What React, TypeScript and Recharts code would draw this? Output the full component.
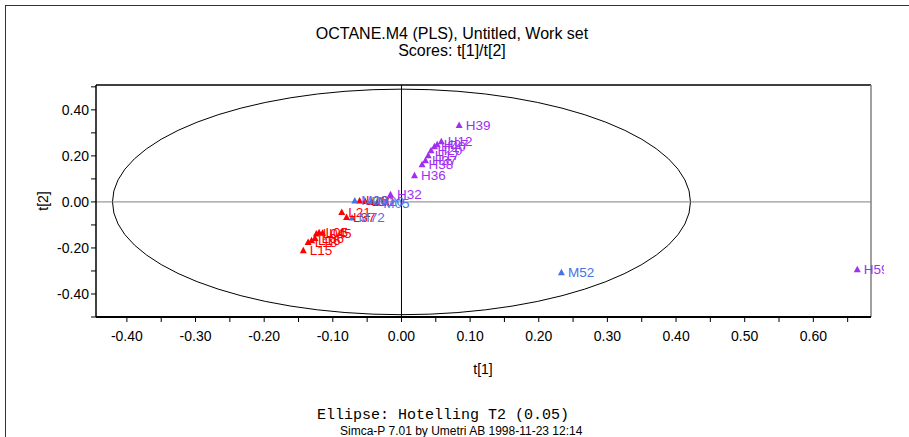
import {
  ScatterChart,
  Scatter,
  XAxis,
  YAxis,
  ReferenceLine,
  ReferenceArea,
  LabelList,
} from 'recharts';

// ─── Data — scores t[1] / t[2] per sample ─────────────────────────────────────

const L_NAMES = ['L15', 'L18', 'L16', 'L06', 'L04', 'L05', 'L45', 'L21', 'L37', 'L13', 'L10'];
const L_T1 = [-0.143, -0.136, -0.131, -0.126, -0.124, -0.120, -0.115, -0.087, -0.080, -0.061, -0.053];
const L_T2 = [-0.210, -0.174, -0.166, -0.157, -0.137, -0.132, -0.134, -0.044, -0.066, 0.006, 0.004];

const M_NAMES = ['M72', 'M06', 'M20', 'M05', 'M52'];
const M_T1 = [-0.072, -0.068, -0.044, -0.036, 0.233];
const M_T2 = [-0.068, 0.006, 0.004, -0.004, -0.306];

const H_NAMES = ['H32', 'H36', 'H38', 'H37', 'H17', 'H20', 'H40', 'H27', 'H12', 'H39', 'H59'];
const H_T1 = [-0.016, 0.019, 0.030, 0.035, 0.039, 0.043, 0.048, 0.052, 0.058, 0.084, 0.664];
const H_T2 = [0.033, 0.116, 0.164, 0.181, 0.203, 0.225, 0.242, 0.251, 0.264, 0.334, -0.293];

// Hotelling T2 (0.05) ellipse semi-axes
const ELLIPSE_T1 = 0.421;
const ELLIPSE_T2 = 0.49;

const X_DOMAIN: [number, number] = [-0.445, 0.684];
const Y_DOMAIN: [number, number] = [-0.5, 0.508];

const X_TICKS = [-0.4, -0.35, -0.3, -0.25, -0.2, -0.15, -0.1, -0.05, 0, 0.05, 0.1, 0.15, 0.2, 0.25, 0.3, 0.35, 0.4, 0.45, 0.5, 0.55, 0.6, 0.65];
const X_LABELS = [-0.4, -0.3, -0.2, -0.1, 0, 0.1, 0.2, 0.3, 0.4, 0.5, 0.6];
const Y_TICKS = [-0.5, -0.4, -0.3, -0.2, -0.1, 0, 0.1, 0.2, 0.3, 0.4, 0.5];
const Y_LABELS = [-0.4, -0.2, 0, 0.2, 0.4];

// ─── Helpers ──────────────────────────────────────────────────────────────────

const RED = '#ff0000';
const BLUE = '#4a72e8';
const PURPLE = '#a02ff0';
const FONT = 'Arial, "Liberation Sans", sans-serif';

function toPoints(names: string[], t1: number[], t2: number[]) {
  return names.map((name, i) => ({ name, t1: t1[i], t2: t2[i] }));
}

const L_DATA = toPoints(L_NAMES, L_T1, L_T2);
const M_DATA = toPoints(M_NAMES, M_T1, M_T2);
const H_DATA = toPoints(H_NAMES, H_T1, H_T2);

function fmt(list: number[]) {
  return (v: number) => (list.some((l) => Math.abs(l - v) < 1e-6) ? v.toFixed(2) : '');
}

function triangle(color: string) {
  return (props: any) => {
    const { cx, cy } = props;
    return (
      <polygon
        points={`${cx - 3.5},${cy + 3} ${cx + 3.5},${cy + 3} ${cx},${cy - 3.5}`}
        fill={color}
      />
    );
  };
}

function EllipseShape(props: any) {
  const { x, y, width, height } = props;
  return (
    <ellipse
      cx={x + width / 2}
      cy={y + height / 2}
      rx={width / 2}
      ry={height / 2}
      fill="none"
      stroke="#000"
      strokeWidth={1}
    />
  );
}

const tickStyle = { fontSize: 14, fill: '#000', fontFamily: FONT };

// ─── Main Component ───────────────────────────────────────────────────────────

export default function App() {
  return (
    <div style={{ position: 'absolute', left: 0, top: 0, width: 909, height: 437, overflow: 'hidden', background: '#fff', fontFamily: FONT }}>
      <div style={{ position: 'absolute', left: 5, top: 5, width: 1000, height: 1000, border: '1px solid #333' }} />

      <div style={{ position: 'absolute', left: 252, width: 400, top: 25, textAlign: 'center', fontSize: 16, lineHeight: '17px', color: '#000' }}>
        OCTANE.M4 (PLS), Untitled, Work set
        <br />
        Scores: t[1]/t[2]
      </div>

      <ScatterChart width={884} height={437} margin={{ top: 85, right: 13, left: 36, bottom: 90 }}>
        <XAxis
          type="number"
          dataKey="t1"
          domain={X_DOMAIN}
          ticks={X_TICKS}
          tickFormatter={fmt(X_LABELS)}
          allowDataOverflow
          axisLine={{ stroke: '#000', strokeWidth: 2 }}
          tickLine={{ stroke: '#000' }}
          tickSize={5}
          tickMargin={9}
          tick={tickStyle}
          height={30}
        />
        <YAxis
          type="number"
          dataKey="t2"
          domain={Y_DOMAIN}
          ticks={Y_TICKS}
          tickFormatter={fmt(Y_LABELS)}
          allowDataOverflow
          axisLine={{ stroke: '#000', strokeWidth: 1.5 }}
          tickLine={{ stroke: '#000' }}
          tickSize={5}
          tickMargin={2}
          tick={tickStyle}
          width={60}
        />

        <ReferenceLine y={Y_DOMAIN[1]} stroke="#000" strokeWidth={1.5} />
        <ReferenceLine x={X_DOMAIN[1]} stroke="#808080" strokeWidth={1.5} />
        <ReferenceLine y={0} stroke="#808080" />
        <ReferenceLine x={0} stroke="#000" />

        <ReferenceArea
          x1={-ELLIPSE_T1}
          x2={ELLIPSE_T1}
          y1={-ELLIPSE_T2}
          y2={ELLIPSE_T2}
          shape={EllipseShape}
        />

        <Scatter data={L_DATA} shape={triangle(RED)} isAnimationActive={false}>
          <LabelList dataKey="name" position="right" offset={2} fill={RED} fontSize={13.5} fontFamily={FONT} />
        </Scatter>
        <Scatter data={M_DATA} shape={triangle(BLUE)} isAnimationActive={false}>
          <LabelList dataKey="name" position="right" offset={2} fill={BLUE} fontSize={13.5} fontFamily={FONT} />
        </Scatter>
        <Scatter data={H_DATA} shape={triangle(PURPLE)} isAnimationActive={false}>
          <LabelList dataKey="name" position="right" offset={2} fill={PURPLE} fontSize={13.5} fontFamily={FONT} />
        </Scatter>
      </ScatterChart>

      <div style={{ position: 'absolute', left: 33, top: 193, fontSize: 14, lineHeight: '16px', transform: 'rotate(-90deg)', transformOrigin: 'center', width: 20, textAlign: 'center' }}>
        t[2]
      </div>
      <div style={{ position: 'absolute', left: 463, width: 40, top: 361, fontSize: 14, lineHeight: '16px', textAlign: 'center' }}>
        t[1]
      </div>

      <div style={{ position: 'absolute', left: 317, top: 408, fontSize: 15, lineHeight: '16px', fontFamily: '"Liberation Mono", "Courier New", monospace', whiteSpace: 'pre' }}>
        Ellipse: Hotelling T2 (0.05)
      </div>
      <div style={{ position: 'absolute', left: 340, top: 424, fontSize: 12, lineHeight: '14px', whiteSpace: 'pre' }}>
        Simca-P 7.01 by Umetri AB 1998-11-23 12:14
      </div>
    </div>
  );
}
